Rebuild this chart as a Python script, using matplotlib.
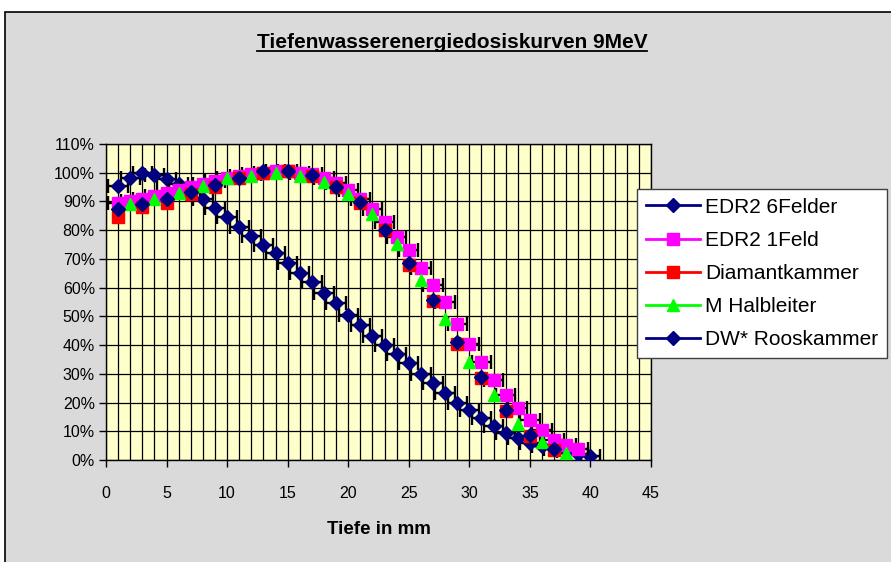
import matplotlib

matplotlib.use("Agg")
import matplotlib.pyplot as plt
from matplotlib.lines import Line2D
from matplotlib.patches import Rectangle
from matplotlib.ticker import FuncFormatter, MultipleLocator

# depth in mm and relative dose in %
depth_6f = list(range(1, 41))
edr2_6felder = [95.5, 98, 100, 99.2, 97.8, 96, 94, 91, 87.6, 84.5,
                81, 78, 75, 72, 68.5, 65, 62, 58, 54.5, 50.5,
                47, 43, 40, 37, 33.7, 30, 26.7, 23.3, 20, 17.4,
                14.6, 11.8, 9.4, 7.6, 5.9, 4.8, 3.8, 3, 2.2, 1.4]

depth_1f = list(range(1, 40))
edr2_1feld = [89.5, 90, 91, 92, 93, 94, 95, 96, 97, 98,
              99, 99.5, 100, 100.5, 100.5, 100, 99.5, 98, 96.5, 94,
              91, 87.5, 83, 77.5, 73, 67, 61, 55, 47.5, 40.5,
              34, 28, 22.6, 18, 14, 10.4, 7, 5.2, 4]

depth_odd = list(range(1, 38, 2))
diamantkammer = [84.5, 88, 89.5, 92.5, 95, 98, 100, 100.5, 99, 95,
                 89.5, 80, 68, 55.5, 40.5, 28.5, 17, 8.5, 3.5]
dw_rooskammer = [87.5, 89, 91, 93.4, 95.8, 98.3, 100.5, 100.5, 99.3, 95.1,
                 89.7, 80.2, 68.5, 55.8, 41, 29, 17.4, 8.7, 3.8]

depth_even = list(range(2, 39, 2))
m_halbleiter = [89, 91, 93, 95.5, 98, 99, 99.8, 99, 96.6, 92.6,
                85.5, 75.2, 62.7, 49.2, 34, 22.6, 12.7, 6.4, 2.5]

labels = ["EDR2 6Felder", "EDR2 1Feld", "Diamantkammer", "M Halbleiter",
          "DW* Rooskammer"]

NAVY = "#000080"
MAGENTA = "#FF00FF"
RED = "#FF0000"
GREEN = "#00FF00"

plt.rcParams["font.family"] = ["Liberation Sans", "DejaVu Sans"]

fig = plt.figure(figsize=(8.91, 5.62), dpi=100, facecolor="white")
fig.add_artist(Rectangle((5 / 891, -0.05), 1.0, 1 - 12 / 562 + 0.05,
                         transform=fig.transFigure, facecolor="#DADADA",
                         edgecolor="black", lw=1.2, zorder=0))

ax = fig.add_axes([106 / 891, 1 - 460 / 562, 545 / 891, 316 / 562])
ax.set_facecolor("#FFFFCC")
ax.set_zorder(1)

# x error bars of the film measurements
err_kw = dict(fmt="none", ecolor="black", elinewidth=1.7, capsize=4.8,
              capthick=1.7, xerr=0.8)
ax.errorbar(depth_6f, edr2_6felder, zorder=3, **err_kw)
ax.plot(depth_6f, edr2_6felder, ls="none", marker="D", ms=7,
        color=NAVY, zorder=4)
ax.errorbar(depth_1f, edr2_1feld, zorder=4.5, **err_kw)
ax.plot(depth_1f, edr2_1feld, ls="none", marker="s", ms=8.5,
        color=MAGENTA, zorder=5)
ax.plot(depth_odd, diamantkammer, ls="none", marker="s", ms=8.5,
        color=RED, zorder=6)
ax.plot(depth_even, m_halbleiter, ls="none", marker="^", ms=9,
        color=GREEN, zorder=7)
ax.plot(depth_odd, dw_rooskammer, ls="none", marker="D", ms=7,
        color=NAVY, zorder=8)

ax.set_xlim(0, 45)
ax.set_ylim(0, 110)
ax.xaxis.set_major_locator(MultipleLocator(5))
ax.xaxis.set_minor_locator(MultipleLocator(1))
ax.yaxis.set_major_locator(MultipleLocator(10))
ax.yaxis.set_major_formatter(FuncFormatter(lambda v, _: f"{v:.0f}%"))
ax.grid(which="major", color="black", lw=0.9, zorder=1)
ax.grid(which="minor", axis="x", color="black", lw=0.9, zorder=1)
ax.set_axisbelow(True)
ax.tick_params(which="major", direction="out", length=5, width=1,
               labelsize=11.5)
ax.tick_params(axis="x", pad=14)
ax.tick_params(axis="y", pad=3)
ax.tick_params(which="minor", length=0)
for s in ax.spines.values():
    s.set_color("black")
    s.set_linewidth(1)

ax.set_xlabel("Tiefe in mm", fontsize=13.5, fontweight="bold", labelpad=14)

# legend
handles = [
    Line2D([], [], color=NAVY, lw=2, marker="D", ms=7),
    Line2D([], [], color=MAGENTA, lw=2, marker="s", ms=8),
    Line2D([], [], color=RED, lw=2, marker="s", ms=8),
    Line2D([], [], color=GREEN, lw=2, marker="^", ms=8.5),
    Line2D([], [], color=NAVY, lw=2, marker="D", ms=7),
]
leg = fig.legend(handles, labels, loc="upper left",
                 bbox_to_anchor=(637 / 891, 1 - 189 / 562),
                 fontsize=15, frameon=True, fancybox=False,
                 edgecolor="#404040", framealpha=1, handlelength=2.6,
                 handletextpad=0.25, labelspacing=0.68, borderpad=0.42,
                 borderaxespad=0)
leg.get_frame().set_linewidth(1)
leg.set_zorder(10)

title = fig.text(452 / 891, 1 - 42 / 562, "Tiefenwasserenergiedosiskurven 9MeV",
                 ha="center", va="center", fontsize=15, fontweight="bold")

# underline the title
fig.canvas.draw()
bb = title.get_window_extent(fig.canvas.get_renderer())
W, H = fig.canvas.get_width_height()
uy = (bb.y0 + 1) / H
fig.add_artist(Line2D([bb.x0 / W, bb.x1 / W], [uy, uy], color="black",
                      lw=1.3, transform=fig.transFigure))

fig.savefig("out.png", dpi=100, facecolor=fig.get_facecolor())
plt.close(fig)
